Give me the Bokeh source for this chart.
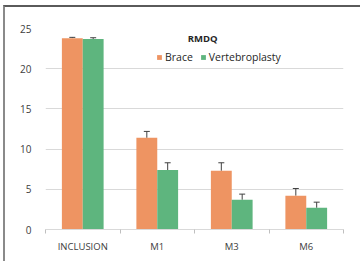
from bokeh.plotting import figure
from bokeh.models import (ColumnDataSource, Range1d, FixedTicker, CustomJSTickFormatter,
                          Legend, LegendItem, Whisker, TeeHead, Label, InlineStyleSheet)
from bokeh.embed import file_html
from bokeh.resources import INLINE

categories = ["INCLUSION", "M1", "M3", "M6"]
brace = [23.8, 11.4, 7.3, 4.2]
brace_err = [0.1, 0.8, 1.0, 0.9]
vertebro = [23.7, 7.4, 3.7, 2.7]
vertebro_err = [0.15, 0.9, 0.7, 0.7]
y_ticks = [0, 5, 10, 15, 20, 25]
series_names = ["Brace", "Vertebroplasty"]
title_text = "RMDQ"

ORANGE = "#EE9462"
GREEN = "#5EB57E"
FONT = "Open Sans"

idx = list(range(len(categories)))
bw = 0.28
src_b = ColumnDataSource(dict(x=[i + 0.5 - bw / 2 for i in idx], top=brace,
                              up=[v + e for v, e in zip(brace, brace_err)]))
src_v = ColumnDataSource(dict(x=[i + 0.5 + bw / 2 for i in idx], top=vertebro,
                              up=[v + e for v, e in zip(vertebro, vertebro_err)]))

p = figure(output_backend="svg", toolbar_location=None,
           x_range=Range1d(0, len(categories)), y_range=Range1d(0, 25),
           frame_width=298, frame_height=201,
           min_border_left=40, min_border_top=21, min_border_right=17, min_border_bottom=32)
p.margin = (5, 0, 0, 3)
p.stylesheets = [InlineStyleSheet(css=":host { border-top: 2px solid #5a5a5a; border-left: 2px solid #8a8a8a; }")]
p.outline_line_color = None
p.background_fill_color = "white"
p.border_fill_color = "white"

rb = p.vbar(x="x", top="top", width=bw, source=src_b, color=ORANGE, line_color=None)
rv = p.vbar(x="x", top="top", width=bw, source=src_v, color=GREEN, line_color=None)

for src in (src_b, src_v):
    w = Whisker(base="x", lower="top", upper="up", source=src,
                upper_head=TeeHead(size=6, line_color="#404040", line_width=1),
                lower_head=None, line_color="#404040", line_width=1)
    p.add_layout(w)

# axes
xa = p.xaxis[0]
xa.ticker = FixedTicker(ticks=[i + 0.5 for i in idx], minor_ticks=list(range(len(categories) + 1)))
xa.formatter = CustomJSTickFormatter(args=dict(cats=categories),
                                     code="return cats[Math.floor(tick)] || '';")
xa.major_tick_out = 0
xa.major_tick_in = 0
xa.minor_tick_out = 4
xa.minor_tick_in = 0
xa.minor_tick_line_color = "#bfbfbf"
xa.axis_line_color = "#d9d9d9"
xa.major_label_text_font = FONT
xa.major_label_text_font_size = "9.5px"
xa.major_label_text_color = "#404040"
xa.major_label_standoff = 6

ya = p.yaxis[0]
ya.ticker = FixedTicker(ticks=y_ticks)
ya.axis_line_color = None
ya.major_tick_line_color = None
ya.minor_tick_line_color = None
ya.major_label_text_font = FONT
ya.major_label_text_font_size = "10px"
ya.major_label_text_color = "#404040"
ya.major_label_standoff = 8

p.xgrid.grid_line_color = None
p.ygrid.grid_line_color = "#d9d9d9"
p.ygrid.grid_line_width = 1

legend = Legend(items=[LegendItem(label=series_names[0], renderers=[rb]),
                       LegendItem(label=series_names[1], renderers=[rv])],
                orientation="horizontal", location=(111, 165),
                glyph_width=6, glyph_height=6, label_standoff=3, spacing=7,
                padding=0, margin=0, border_line_color=None, background_fill_alpha=0,
                label_text_font=FONT, label_text_font_size="10.5px",
                label_text_color="#262626", label_height=12)
p.add_layout(legend, "center")

p.add_layout(Label(x=2.11, y=23.8, text=title_text, text_align="center", text_baseline="middle",
                   text_font=FONT, text_font_size="9.5px", text_font_style="bold",
                   text_color="#262626"))

open("out.html", "w").write(file_html(p, INLINE))
